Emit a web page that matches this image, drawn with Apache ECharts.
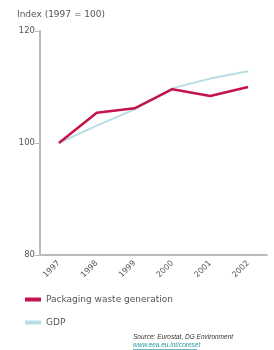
<!DOCTYPE html>
<html>
<head>
<meta charset="utf-8">
<script src="https://cdn.jsdelivr.net/npm/echarts@6/dist/echarts.min.js"></script>
<style>
  html, body { margin: 0; padding: 0; background: #fff; }
  #chart { width: 274px; height: 350px; }
</style>
</head>
<body>
<div id="chart"></div>
<script>
// data
const years = ["1997", "1998", "1999", "2000", "2001", "2002"];
const packagingWaste = [100, 105.4, 106.2, 109.6, 108.4, 110.0];
const gdp = [100, 103.1, 106.0, 109.8, 111.5, 112.8];
const yTicks = [80, 100, 120];

const chart = echarts.init(document.getElementById("chart"));
const txt = "#555";
const axisGray = "#bbbbbb";

chart.setOption({
  animation: false,
  textStyle: { fontFamily: "DejaVu Sans" },
  grid: { left: 40, right: 7, top: 31, bottom: 95 },
  legend: {
    orient: "vertical",
    left: 20,
    top: 290,
    itemGap: 14,
    itemWidth: 16,
    itemHeight: 4,
    icon: "rect",
    textStyle: { color: txt, fontSize: 9, fontFamily: "DejaVu Sans" },
    data: ["Packaging waste generation", "GDP"]
  },
  xAxis: {
    type: "category",
    data: years,
    boundaryGap: true,
    axisLine: { lineStyle: { color: axisGray, width: 2 } },
    axisTick: { alignWithLabel: true, length: 5, lineStyle: { color: axisGray, width: 1 } },
    axisLabel: { rotate: 45, color: txt, fontSize: 8, margin: 7 },
    splitLine: { show: false }
  },
  yAxis: {
    type: "value",
    min: yTicks[0],
    max: yTicks[yTicks.length - 1],
    interval: 20,
    axisLine: { show: true, lineStyle: { color: axisGray, width: 2 } },
    axisTick: { show: true, length: 5, lineStyle: { color: axisGray, width: 1 } },
    axisLabel: { color: txt, fontSize: 8.5, margin: 5 },
    splitLine: { show: false }
  },
  series: [
    {
      name: "GDP",
      type: "line",
      data: gdp,
      symbol: "none",
      z: 2,
      lineStyle: { color: "#b8dde6", width: 2 },
      itemStyle: { color: "#b8dde6" }
    },
    {
      name: "Packaging waste generation",
      type: "line",
      data: packagingWaste,
      symbol: "none",
      z: 3,
      lineStyle: { color: "#c4144a", width: 2.5 },
      itemStyle: { color: "#c4144a" }
    }
  ],
  graphic: [
    {
      type: "text", left: 17, top: 10,
      style: { text: "Index (1997 = 100)", fill: txt, fontSize: 9, fontFamily: "DejaVu Sans" }
    },
    {
      type: "text", left: 133, top: 334,
      style: { text: "Source: Eurostat, DG Environment", fill: "#333", fontSize: 6.5, fontStyle: "italic", fontFamily: "Liberation Sans" }
    },
    {
      type: "text", left: 133, top: 342,
      style: { text: "www.eea.eu.int/coreset", fill: "#2a9aa0", fontSize: 6.5, fontStyle: "italic", fontFamily: "Liberation Sans" }
    },
    {
      type: "line",
      shape: { x1: 133, y1: 349.5, x2: 197, y2: 349.5 },
      style: { stroke: "#2a9aa0", lineWidth: 0.7 }
    }
  ]
});
</script>
</body>
</html>
